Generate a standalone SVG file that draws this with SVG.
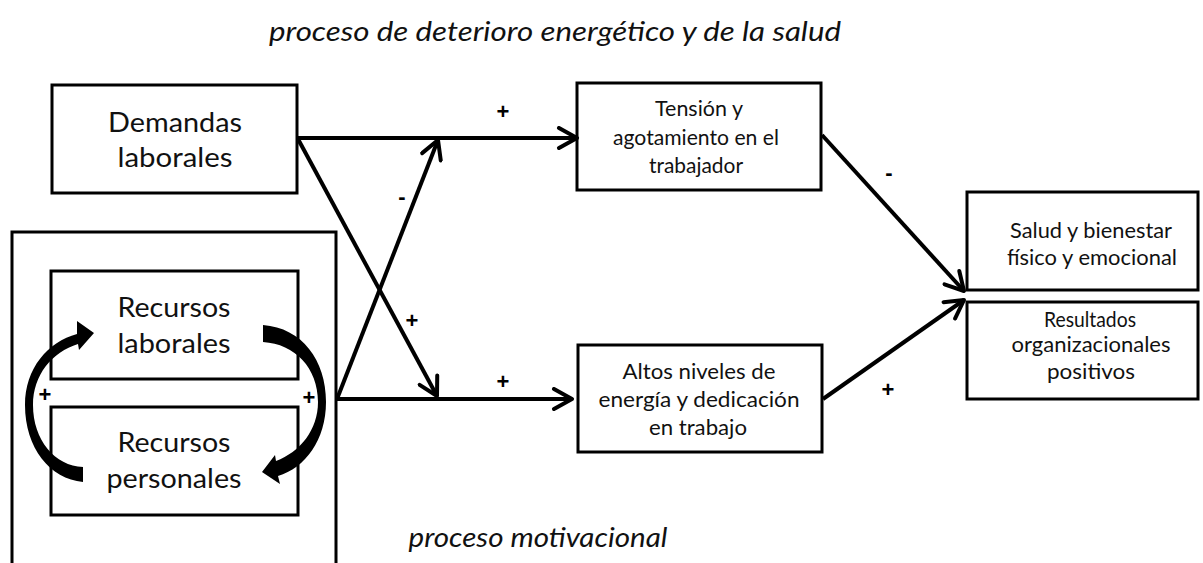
<svg xmlns="http://www.w3.org/2000/svg" width="1203" height="563" viewBox="0 0 1203 563">
<style>
.box{fill:#fff;stroke:#000;stroke-width:3}
.t{font-family:Lato,"Liberation Sans",sans-serif;fill:#111;text-anchor:middle}
.big{font-size:27px}
.sm{font-size:21.5px}
.ttl{font-family:Lato,"Liberation Sans",sans-serif;font-style:italic;font-size:27px;fill:#111;text-anchor:middle}
.sign{font-family:"Liberation Sans",Arial,sans-serif;font-weight:bold;font-size:22px;fill:#000;text-anchor:middle}
.conn{stroke:#000;stroke-width:4;fill:none}
</style>
<defs>
<marker id="ah" markerUnits="userSpaceOnUse" viewBox="0 0 24 24" refX="21" refY="12" markerWidth="24" markerHeight="24" orient="auto">
<path d="M3,2 L21,12 L3,22" fill="none" stroke="#000" stroke-width="4" stroke-linecap="round" stroke-linejoin="round"/>
</marker>
</defs>
<rect width="1203" height="563" fill="#fff"/>
<text class="ttl" x="555" y="41" textLength="572" lengthAdjust="spacingAndGlyphs">proceso de deterioro energético y de la salud</text>
<text class="ttl" x="538" y="547" textLength="259" lengthAdjust="spacingAndGlyphs">proceso motivacional</text>

<g id="recursos-grupo">
<path d="M12,563 V232 H336 V563" fill="none" stroke="#000" stroke-width="3"/>
</g>

<g id="demandas">
<rect class="box" x="52" y="85" width="245" height="108"/>
<text class="t big" x="175" y="132" textLength="134" lengthAdjust="spacingAndGlyphs">Demandas</text>
<text class="t big" x="175" y="167" textLength="115" lengthAdjust="spacingAndGlyphs">laborales</text>
</g>
<g id="recursos-laborales">
<rect class="box" x="51" y="271" width="247" height="108"/>
<text class="t big" x="174" y="317" textLength="113" lengthAdjust="spacingAndGlyphs">Recursos</text>
<text class="t big" x="174" y="353" textLength="113" lengthAdjust="spacingAndGlyphs">laborales</text>
</g>
<g id="recursos-personales">
<rect class="box" x="51" y="407" width="247" height="108"/>
<text class="t big" x="174" y="452" textLength="113" lengthAdjust="spacingAndGlyphs">Recursos</text>
<text class="t big" x="174" y="488" textLength="135" lengthAdjust="spacingAndGlyphs">personales</text>
</g>
<g id="tension">
<rect class="box" x="577" y="83" width="244" height="107"/>
<text class="t sm" x="699" y="116" textLength="88" lengthAdjust="spacingAndGlyphs">Tensión  y</text>
<text class="t sm" x="696" y="145" textLength="166" lengthAdjust="spacingAndGlyphs">agotamiento en el</text>
<text class="t sm" x="696" y="173" textLength="94" lengthAdjust="spacingAndGlyphs">trabajador</text>
</g>
<g id="altos">
<rect class="box" x="578" y="345" width="244" height="107"/>
<text class="t sm" x="699" y="379" textLength="153" lengthAdjust="spacingAndGlyphs">Altos niveles de</text>
<text class="t sm" x="699" y="407" textLength="201" lengthAdjust="spacingAndGlyphs">energía y dedicación</text>
<text class="t sm" x="698" y="435" textLength="98" lengthAdjust="spacingAndGlyphs">en trabajo</text>
</g>
<g id="salud">
<rect class="box" x="967" y="192" width="231" height="98"/>
<text class="t sm" x="1091" y="238" textLength="162" lengthAdjust="spacingAndGlyphs">Salud y bienestar</text>
<text class="t sm" x="1092" y="265" textLength="170" lengthAdjust="spacingAndGlyphs">físico y emocional</text>
</g>
<g id="resultados">
<rect class="box" x="967" y="302" width="231" height="97"/>
<text class="t sm" x="1090" y="327" textLength="92" lengthAdjust="spacingAndGlyphs">Resultados</text>
<text class="t sm" x="1091" y="352" textLength="159" lengthAdjust="spacingAndGlyphs">organizacionales</text>
<text class="t sm" x="1091" y="379" textLength="88" lengthAdjust="spacingAndGlyphs">positivos</text>
</g>

<g id="connectors">
<line class="conn" x1="298" y1="138" x2="577" y2="138" marker-end="url(#ah)"/>
<line class="conn" x1="298" y1="139" x2="437" y2="396" marker-end="url(#ah)"/>
<line class="conn" x1="337" y1="399" x2="572" y2="399" marker-end="url(#ah)"/>
<line class="conn" x1="337" y1="399" x2="438" y2="140" marker-end="url(#ah)"/>
<line class="conn" x1="822" y1="135" x2="964" y2="291" marker-end="url(#ah)"/>
<line class="conn" x1="823" y1="399" x2="964" y2="300" marker-end="url(#ah)"/>
<path d="M83,482 C50,479 25,448 25,405 C25,368 48,342 77,334 L77,321 L94,333 L79,350 L78,344 C52,352 33,375 33,405 C33,440 55,466 83,467 Z" fill="#000"/>
<path d="M263,325 C302,328 326,360 326,402 C326,440 305,468 278,476 L280,484 L262,472 L275,455 L276,461 C300,452 318,430 318,402 C318,368 295,344 263,342 Z" fill="#000"/>
<text class="sign" x="503" y="119">+</text>
<text class="sign" x="402" y="204">-</text>
<text class="sign" x="412" y="328">+</text>
<text class="sign" x="503" y="389">+</text>
<text class="sign" x="889" y="180">-</text>
<text class="sign" x="888" y="397">+</text>
<text class="sign" x="45" y="402">+</text>
<text class="sign" x="309" y="405">+</text>
</g>
</svg>
